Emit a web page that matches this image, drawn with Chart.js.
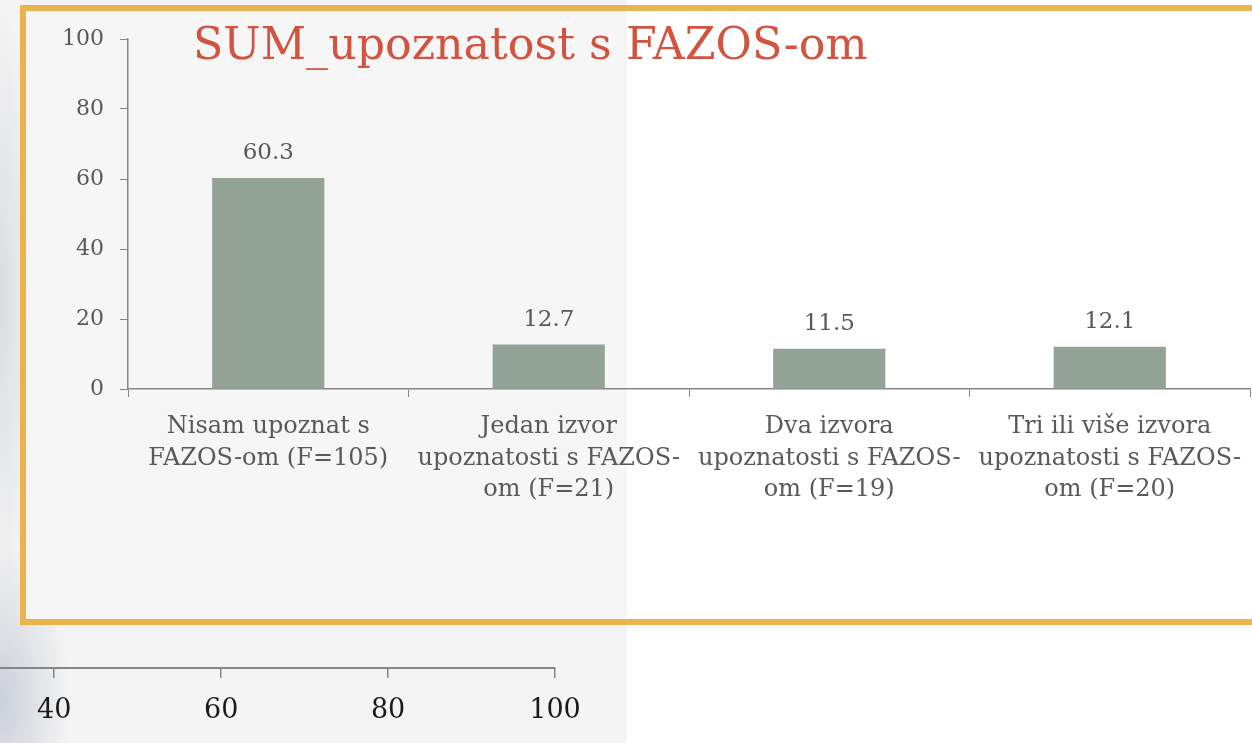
<!DOCTYPE html>
<html>
<head>
<meta charset="utf-8">
<script src="https://cdn.jsdelivr.net/npm/chart.js@4.4.1/dist/chart.umd.min.js"></script>
<style>
  html, body { margin: 0; padding: 0; }
  body { width: 1252px; height: 743px; position: relative; overflow: hidden; background: #fff; }
  #leftPanel {
    position: absolute; left: 0; top: 0; width: 627px; height: 743px;
    background:
      radial-gradient(ellipse 70px 160px at 0px 700px, rgba(170,178,192,0.55), rgba(244,244,244,0)),
      radial-gradient(ellipse 40px 300px at 0px 300px, rgba(185,190,200,0.45), rgba(244,244,244,0)),
      #f4f4f4;
  }
  #frame {
    position: absolute; left: 20px; top: 5px; width: 1240px; height: 620px;
    box-sizing: border-box; border: 6px solid #e9b44c;
  }
  #frameFill { position: absolute; left: 26px; top: 11px; width: 601px; height: 608px; background: #f6f6f6; }
  #title {
    position: absolute; left: 193px; top: 22px; margin: 0;
    font-family: "DejaVu Serif", serif; font-size: 44.3px; line-height: 1; font-weight: normal;
    color: #d2533f; white-space: nowrap; z-index: 3;
  }
  #main { position: absolute; left: 0; top: 0; z-index: 2; }
  #bottomAxis { position: absolute; left: 0; top: 640px; z-index: 2; }
</style>
</head>
<body>
<div id="leftPanel"></div>
<div id="frameFill"></div>
<div id="frame"></div>
<h1 id="title">SUM_upoznatost s FAZOS-om</h1>
<canvas id="main" width="1252" height="560"></canvas>
<canvas id="bottomAxis" width="640" height="103"></canvas>
<script>
// chart data
const categories = [
  ["Nisam upoznat s", "FAZOS-om (F=105)"],
  ["Jedan izvor", "upoznatosti s FAZOS-", "om (F=21)"],
  ["Dva izvora", "upoznatosti s FAZOS-", "om (F=19)"],
  ["Tri ili više izvora", "upoznatosti s FAZOS-", "om (F=20)"]
];
const values = [60.3, 12.7, 11.5, 12.1];
const yTicks = [0, 20, 40, 60, 80, 100];
const bottomTicks = [40, 60, 80, 100];

const serif = "'DejaVu Serif', serif";
const textGray = "#595959";
const axisGray = "#868686";

// draws the value above each bar
const valueLabels = {
  id: "valueLabels",
  afterDatasetsDraw(chart) {
    const ctx = chart.ctx;
    const meta = chart.getDatasetMeta(0);
    ctx.save();
    ctx.font = "23px " + serif;
    ctx.fillStyle = textGray;
    ctx.textAlign = "center";
    ctx.textBaseline = "middle";
    meta.data.forEach((bar, i) => {
      ctx.fillText(values[i].toFixed(1), bar.x, bar.y - 25);
    });
    ctx.restore();
  }
};

new Chart(document.getElementById("main"), {
  type: "bar",
  data: {
    labels: categories,
    datasets: [{
      data: values,
      backgroundColor: "#93a397",
      categoryPercentage: 1,
      barPercentage: 0.4
    }]
  },
  plugins: [valueLabels],
  options: {
    responsive: false,
    animation: false,
    layout: { padding: { top: 39, right: 2, left: 0, bottom: 0 } },
    plugins: {
      legend: { display: false },
      tooltip: { enabled: false }
    },
    scales: {
      x: {
        grid: { drawOnChartArea: false, tickLength: 8, color: axisGray, lineWidth: 1 },
        border: { color: axisGray, width: 1.5 },
        ticks: {
          color: textGray,
          font: { family: serif, size: 24, lineHeight: 1.32 },
          padding: 14,
          maxRotation: 0,
          autoSkip: false
        },
        afterFit(scale) {
          scale.height = 560 - 389;
          scale.paddingLeft = 0;
          scale.paddingRight = 0;
        }
      },
      y: {
        min: 0,
        max: 100,
        afterBuildTicks(scale) { scale.ticks = yTicks.map(v => ({ value: v })); },
        afterFit(scale) { scale.width = 128; },
        grid: { drawOnChartArea: false, tickLength: 8, color: axisGray, lineWidth: 1 },
        border: { color: axisGray, width: 1.5 },
        ticks: { color: textGray, font: { family: serif, size: 22 }, padding: 16 }
      }
    }
  }
});

// leftover axis from the slide below
new Chart(document.getElementById("bottomAxis"), {
  type: "scatter",
  data: { datasets: [{ data: [] }] },
  options: {
    responsive: false,
    animation: false,
    layout: { padding: { top: 20, right: 85, left: 0, bottom: 0 } },
    plugins: { legend: { display: false }, tooltip: { enabled: false } },
    scales: {
      x: {
        type: "linear",
        min: 33.5,
        max: 100,
        afterBuildTicks(scale) { scale.ticks = bottomTicks.map(v => ({ value: v })); },
        afterFit(scale) { scale.height = 75; },
        grid: { drawOnChartArea: false, tickLength: 10, color: axisGray, lineWidth: 1.5 },
        border: { color: axisGray, width: 2 },
        ticks: { color: "#1a1a1a", font: { family: serif, size: 27 }, padding: 17 }
      },
      y: { display: false, min: 0, max: 1 }
    }
  }
});
</script>
</body>
</html>
